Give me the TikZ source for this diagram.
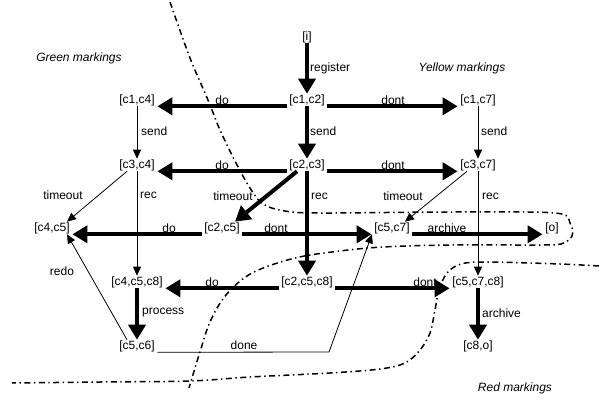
\documentclass[tikz,border=0pt]{standalone}
\usepackage{fontspec}
\setmainfont{Liberation Sans}
\usetikzlibrary{arrows.meta}
\begin{document}
\begin{tikzpicture}[x=1pt,y=-1pt,
  font=\fontsize{12}{14}\selectfont,
  statenode/.style={inner xsep=2.5pt,inner ysep=0.5pt},
  lbl/.style={inner sep=0pt},
  lblw/.style={inner sep=0pt,anchor=west},
  caption/.style={inner sep=0pt,font=\fontsize{12}{14}\selectfont\itshape},
  bigarrow/.style={line width=4pt,-{Triangle[length=15pt,width=17pt]}},
  smallarrow/.style={line width=0.8pt,-{Triangle[length=9pt,width=8pt]}},
  border/.style={line width=1.5pt,dash pattern=on 6pt off 3.5pt on 1.4pt off 3.5pt}]
\useasboundingbox (0,0) rectangle (599,401);

% markings
\node[statenode] (i)    at (307,37)  {[i]};
\node[statenode] (c12)  at (307,100) {[c1,c2]};
\node[statenode] (c14)  at (137,100) {[c1,c4]};
\node[statenode] (c17)  at (478,100) {[c1,c7]};
\node[statenode] (c34)  at (137,165) {[c3,c4]};
\node[statenode] (c23)  at (307,165) {[c2,c3]};
\node[statenode] (c37)  at (478,165) {[c3,c7]};
\node[statenode] (c45)  at (52,228)  {[c4,c5]};
\node[statenode] (c25)  at (222,228) {[c2,c5]};
\node[statenode] (c57)  at (392,228) {[c5,c7]};
\node[statenode] (o)    at (552,228) {[o]};
\node[statenode] (c458) at (137,282) {[c4,c5,c8]};
\node[statenode] (c258) at (307,282) {[c2,c5,c8]};
\node[statenode] (c578) at (478,282) {[c5,c7,c8]};
\node[statenode] (c56)  at (137,346) {[c5,c6]};
\node[statenode] (c8o)  at (478,346) {[c8,o]};
\coordinate (donebend) at (329,352);

% region captions
\node[caption] (green)  at (79,58)  {Green markings};
\node[caption] (yellow) at (462,68) {Yellow markings};
\node[caption] (red)    at (515,388) {Red markings};

% heavy transitions
\draw[bigarrow] (i) -- (c12.north);
\draw[bigarrow] (c12.south west) -- (c14.south east);
\draw[bigarrow] (c12.south east) -- (c17.south west);
\draw[bigarrow] (c12.south) -- (c23.north);
\draw[bigarrow] (c23.south west) -- (c34.south east);
\draw[bigarrow] (c23.south east) -- (c37.south west);
\draw[bigarrow] ([xshift=-10pt]c23.south) -- ([xshift=13pt]c25.north);
\draw[bigarrow] (c23.south) -- (c258.north);
\draw[bigarrow] (c25.south west) -- (c45.south east);
\draw[bigarrow] (c25.south east) -- (c57.south west);
\draw[bigarrow] (c57.south east) -- (o.south west);
\draw[bigarrow] (c258.south west) -- (c458.south east);
\draw[bigarrow] (c258.south east) -- (c578.south west);
\draw[bigarrow] (c458.south) -- (c56.north);
\draw[bigarrow] (c578.south) -- (c8o.north);

% light transitions
\draw[smallarrow] (c14.south) -- (c34.north);
\draw[smallarrow] ([xshift=-10pt]c34.south) -- ([xshift=15pt]c45.north);
\draw[smallarrow] (c34.south) -- (c458.north);
\draw[smallarrow] (c17.south) -- (c37.north);
\draw[smallarrow] ([xshift=-11pt]c37.south) -- ([xshift=13pt]c57.north);
\draw[smallarrow] (c37.south) -- (c578.north);
\draw[smallarrow] ([xshift=-10pt]c56.north) -- ([xshift=15pt]c45.south);
\draw[smallarrow] (c56.south east) -- (donebend) -- ([xshift=-20pt]c57.south);

% transition labels
\node[lblw] (l-register) at (310,68) {register};
\node[lbl]  (l-do1)   at (222,100) {do};
\node[lbl]  (l-dont1) at (393,100) {dont};
\node[lblw] (l-send1) at (141,131) {send};
\node[lblw] (l-send2) at (310,131) {send};
\node[lblw] (l-send3) at (481,131) {send};
\node[lbl]  (l-do2)   at (222,165) {do};
\node[lbl]  (l-dont2) at (393,165) {dont};
\node[lbl]  (l-to1)   at (63,195)  {timeout};
\node[lblw] (l-rec1)  at (140,195) {rec};
\node[lbl]  (l-to2)   at (233,196) {timeout};
\node[lblw] (l-rec2)  at (311,196) {rec};
\node[lbl]  (l-to3)   at (403,196) {timeout};
\node[lblw] (l-rec3)  at (482,196) {rec};
\node[lbl]  (l-do3)   at (169,228) {do};
\node[lbl]  (l-dont3) at (276,228) {dont};
\node[lbl]  (l-arch1) at (447,228) {archive};
\node[lbl]  (l-redo)  at (62,271)  {redo};
\node[lbl]  (l-do4)   at (212,282) {do};
\node[lbl]  (l-dont4) at (425,282) {dont};
\node[lblw] (l-proc)  at (142,313) {process};
\node[lblw] (l-arch2) at (482,313) {archive};
\node[lbl]  (l-done)  at (244,345) {done};

% region boundaries
\draw[border] plot[smooth,tension=0.55] coordinates {
  (170,2) (190,58) (208,100) (220,130) (236,163) (250,188) (263,204)
  (285,211) (320,213) (450,212) (555,213) (570,223) (572,236) (561,244)
  (540,245) (450,245) (383,247) (340,251) (295,258) (252,273) (226,295)
  (210,322) (199,355) (189,388)};
\draw[border] plot[smooth,tension=0.55] coordinates {
  (599,266) (560,264) (487,262) (461,264) (447,273) (439,290) (435,310)
  (430,333) (420,350) (405,363) (380,369) (330,373) (250,377) (190,381)
  (100,382) (12,383)};
\end{tikzpicture}
\end{document}
